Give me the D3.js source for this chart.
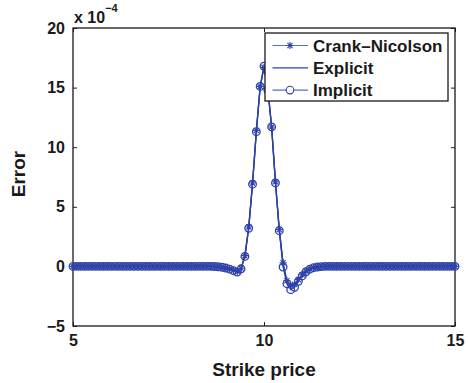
<!DOCTYPE html>
<html>
<head>
<meta charset="utf-8">
<script src="https://cdn.jsdelivr.net/npm/d3@7/dist/d3.min.js"></script>
<style>
  body { margin: 0; background: #fff; }
  text { font-family: "Liberation Sans", Arial, Helvetica, sans-serif; font-weight: bold; fill: #1a1a1a; }
</style>
</head>
<body>
<div id="chart"></div>
<script>
// strike grid (5 to 15, step 0.1)
var strikes = [
  5.0,5.1,5.2,5.3,5.4,5.5,5.6,5.7,5.8,5.9,6.0,6.1,6.2,6.3,6.4,6.5,6.6,6.7,6.8,6.9,
  7.0,7.1,7.2,7.3,7.4,7.5,7.6,7.7,7.8,7.9,8.0,8.1,8.2,8.3,8.4,8.5,8.6,8.7,8.8,8.9,
  9.0,9.1,9.2,9.3,9.4,9.5,9.6,9.7,9.8,9.9,10.0,10.1,10.2,10.3,10.4,10.5,10.6,10.7,10.8,10.9,
  11.0,11.1,11.2,11.3,11.4,11.5,11.6,11.7,11.8,11.9,12.0,12.1,12.2,12.3,12.4,12.5,12.6,12.7,12.8,12.9,
  13.0,13.1,13.2,13.3,13.4,13.5,13.6,13.7,13.8,13.9,14.0,14.1,14.2,14.3,14.4,14.5,14.6,14.7,14.8,14.9,15.0
];

// errors in units of 1e-4
var crankNicolson = [
  0,0,0,0,0,0,0,0,0,0,0,0,0,0,0,0,0,0,0,0,
  0,0,0,0,0,0,0,0,0,0,0,0,0,0,0,0,0,-0.01,-0.02,-0.06,
  -0.12,-0.2,-0.32,-0.42,-0.15,0.9,3.3,7.0,11.4,15.1,16.7,15.0,11.7,7.1,3.1,0.3,-1.2,-1.6,-1.5,-1.1,
  -0.7,-0.4,-0.2,-0.1,-0.04,-0.01,0,0,0,0,0,0,0,0,0,0,0,0,0,0,
  0,0,0,0,0,0,0,0,0,0,0,0,0,0,0,0,0,0,0,0,0
];
var explicit = [
  0,0,0,0,0,0,0,0,0,0,0,0,0,0,0,0,0,0,0,0,
  0,0,0,0,0,0,0,0,0,0,0,0,0,0,0,0,0,-0.01,-0.02,-0.06,
  -0.12,-0.21,-0.33,-0.43,-0.17,0.88,3.25,6.95,11.35,15.05,16.75,14.9,11.65,7.05,3.05,0.2,-1.3,-1.7,-1.55,-1.15,
  -0.72,-0.42,-0.21,-0.1,-0.04,-0.01,0,0,0,0,0,0,0,0,0,0,0,0,0,0,
  0,0,0,0,0,0,0,0,0,0,0,0,0,0,0,0,0,0,0,0,0
];
var implicit = [
  0,0,0,0,0,0,0,0,0,0,0,0,0,0,0,0,0,0,0,0,
  0,0,0,0,0,0,0,0,0,0,0,0,0,0,0,0,0,-0.01,-0.03,-0.07,
  -0.14,-0.23,-0.36,-0.48,-0.2,0.84,3.2,6.9,11.3,15.1,16.8,14.8,11.7,7.0,3.0,-0.05,-1.45,-1.95,-1.75,-1.25,
  -0.8,-0.45,-0.23,-0.11,-0.05,-0.02,0,0,0,0,0,0,0,0,0,0,0,0,0,0,
  0,0,0,0,0,0,0,0,0,0,0,0,0,0,0,0,0,0,0,0,0
];

var seriesNames = ["Crank\u2013Nicolson", "Explicit", "Implicit"];
var xTicks = [5, 10, 15];
var yTicks = [-5, 0, 5, 10, 15, 20];

var svgWidth = 468;
var svgHeight = 383;
var margin = { top: 28, right: 13, bottom: 57, left: 73 };
var width = svgWidth - margin.left - margin.right;
var height = svgHeight - margin.top - margin.bottom;
var blue = "#2f42a8";

var svg = d3.select("#chart")
    .append("svg")
    .attr("width", svgWidth)
    .attr("height", svgHeight);

var chartGroup = svg.append("g")
    .attr("transform", `translate(${margin.left}, ${margin.top})`);

var xScale = d3.scaleLinear().domain([5, 15]).range([0, width]);
var yScale = d3.scaleLinear().domain([-5, 20]).range([height, 0]);

function minusFmt(d) { return d < 0 ? "\u2212" + Math.abs(d) : d; }

// axes with inward ticks, mirrored on top and right
var tickLen = 4;
var xAxisG = chartGroup.append("g")
    .attr("transform", `translate(0, ${height})`)
    .call(d3.axisBottom(xScale).tickValues(xTicks).tickSizeInner(-tickLen).tickSizeOuter(0).tickPadding(9).tickFormat(minusFmt));
chartGroup.append("g")
    .call(d3.axisTop(xScale).tickValues(xTicks).tickSizeInner(-tickLen).tickSizeOuter(0).tickFormat(() => ""));
var yAxisG = chartGroup.append("g")
    .call(d3.axisLeft(yScale).tickValues(yTicks).tickSizeInner(-tickLen).tickSizeOuter(0).tickPadding(8).tickFormat(minusFmt));
chartGroup.append("g")
    .attr("transform", `translate(${width}, 0)`)
    .call(d3.axisRight(yScale).tickValues(yTicks).tickSizeInner(-tickLen).tickSizeOuter(0).tickFormat(() => ""));

chartGroup.selectAll(".domain").remove();
chartGroup.selectAll(".tick line").attr("stroke", "#222").attr("stroke-width", 1);
[xAxisG, yAxisG].forEach(function (g) {
    g.selectAll(".tick text")
        .attr("font-size", "16px")
        .attr("font-family", "Liberation Sans, Arial, sans-serif")
        .attr("font-weight", "bold")
        .attr("fill", "#1a1a1a");
});

// frame
chartGroup.append("rect")
    .attr("x", 0).attr("y", 0)
    .attr("width", width).attr("height", height)
    .attr("fill", "none")
    .attr("stroke", "#1a1a1a")
    .attr("stroke-width", 1.3);

// series
var line = d3.line()
    .x((d, i) => xScale(strikes[i]))
    .y(d => yScale(d));

var plot = chartGroup.append("g");
[crankNicolson, explicit, implicit].forEach(function (vals) {
    plot.append("path")
        .datum(vals)
        .attr("d", line)
        .attr("fill", "none")
        .attr("stroke", blue)
        .attr("stroke-width", 1.3);
});

function asterisk(g, x, y, r) {
    var p = `M${x - r},${y}L${x + r},${y}M${x},${y - r}L${x},${y + r}`;
    var q = r * 0.72;
    p += `M${x - q},${y - q}L${x + q},${y + q}M${x - q},${y + q}L${x + q},${y - q}`;
    g.append("path").attr("d", p).attr("stroke", blue).attr("stroke-width", 1.1).attr("fill", "none");
}

crankNicolson.forEach(function (v, i) {
    asterisk(plot, xScale(strikes[i]), yScale(v), 3.6);
});

plot.selectAll("circle.imp")
    .data(implicit)
    .enter()
    .append("circle")
    .attr("class", "imp")
    .attr("cx", (d, i) => xScale(strikes[i]))
    .attr("cy", d => yScale(d))
    .attr("r", 3.8)
    .attr("fill", "none")
    .attr("stroke", blue)
    .attr("stroke-width", 1.3);

// legend
var legend = chartGroup.append("g")
    .attr("transform", `translate(${265 - margin.left}, ${33 - margin.top})`);
legend.append("rect")
    .attr("width", 183).attr("height", 68)
    .attr("fill", "#fff")
    .attr("stroke", "#1a1a1a")
    .attr("stroke-width", 1.3);

seriesNames.forEach(function (name, i) {
    var yy = 12.5 + i * 22.3;
    var row = legend.append("g");
    row.append("line")
        .attr("x1", 7.5).attr("x2", 43)
        .attr("y1", yy).attr("y2", yy)
        .attr("stroke", i === 1 ? blue : "#5a6cc0")
        .attr("stroke-width", 1.2);
    if (i === 0) asterisk(row, 25, yy, 3.6);
    if (i === 2) {
        row.append("circle").attr("cx", 25).attr("cy", yy).attr("r", 3.8)
            .attr("fill", "#fff").attr("stroke", blue).attr("stroke-width", 1.1);
    }
    row.append("text")
        .attr("x", 48)
        .attr("y", yy + 6)
        .attr("font-size", "17px")
        .text(name);
});

// axis labels
svg.append("text")
    .attr("text-anchor", "middle")
    .attr("x", margin.left + width / 2)
    .attr("y", 376)
    .attr("font-size", "19px")
    .text("Strike price");

svg.append("text")
    .attr("text-anchor", "middle")
    .attr("transform", "translate(25, 174) rotate(-90)")
    .attr("font-size", "19px")
    .text("Error");

// exponent label
var expo = svg.append("text")
    .attr("x", 74)
    .attr("y", 23)
    .attr("font-size", "16px");
expo.append("tspan").text("x 10");
expo.append("tspan")
    .attr("dy", -11)
    .attr("font-size", "11px")
    .text("\u22124");
</script>
</body>
</html>
